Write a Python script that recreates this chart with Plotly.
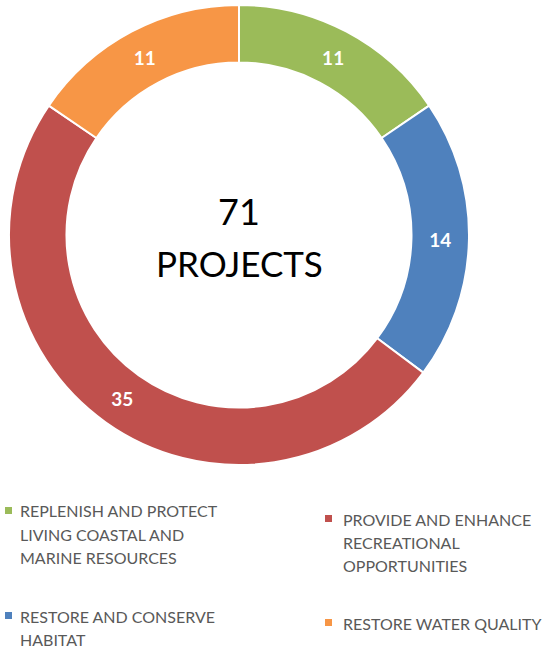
import plotly.graph_objects as go

W, H = 544, 648

categories = [
    "REPLENISH AND PROTECT LIVING COASTAL AND MARINE RESOURCES",
    "RESTORE AND CONSERVE HABITAT",
    "PROVIDE AND ENHANCE RECREATIONAL OPPORTUNITIES",
    "RESTORE WATER QUALITY",
]
values = [11, 14, 35, 11]
colors = ["#9BBB59", "#4F81BD", "#C0504D", "#F79646"]
legend_lines = [
    ["REPLENISH AND PROTECT", "LIVING COASTAL AND", "MARINE RESOURCES"],
    ["RESTORE AND CONSERVE", "HABITAT"],
    ["PROVIDE AND ENHANCE", "RECREATIONAL", "OPPORTUNITIES"],
    ["RESTORE WATER QUALITY"],
]
center_text = ["71", "PROJECTS"]


def px_x(x):
    return x / W


def px_y(y):
    return 1 - y / H


cx, cy, r = 239, 235, 230

fig = go.Figure(
    go.Pie(
        labels=categories,
        values=values,
        hole=0.75,
        sort=False,
        direction="clockwise",
        rotation=0,
        marker=dict(colors=colors, line=dict(color="white", width=2)),
        textinfo="value",
        textposition="inside",
        insidetextorientation="horizontal",
        textfont=dict(family="Lato", size=19, color="white", weight="bold"),
        domain=dict(x=[px_x(cx - r), px_x(cx + r)], y=[px_y(cy + r), px_y(cy - r)]),
        showlegend=False,
        hoverinfo="label+value",
    )
)

annotations = []
annotations.append(dict(x=px_x(cx), y=px_y(211), text=center_text[0], showarrow=False,
                        font=dict(family="Lato", size=36, color="#000000"),
                        xref="paper", yref="paper", xanchor="center", yanchor="middle"))
annotations.append(dict(x=px_x(cx), y=px_y(263), text=center_text[1], showarrow=False,
                        font=dict(family="Lato", size=35, color="#000000"),
                        xref="paper", yref="paper", xanchor="center", yanchor="middle"))

legend_pos = [(8, 18, 511), (8, 18, 616), (328, 341, 519), (328, 341, 623)]
line_h = 23
shapes = []
for lines, col, (mx, tx, y0) in zip(legend_lines, colors, legend_pos):
    shapes.append(dict(type="rect", xref="paper", yref="paper",
                       x0=px_x(mx - 3), x1=px_x(mx + 4), y0=px_y(y0 + 3), y1=px_y(y0 - 4),
                       fillcolor=col, line=dict(width=0)))
    for i, ln in enumerate(lines):
        annotations.append(dict(x=px_x(tx), y=px_y(y0 + i * line_h), text=ln, showarrow=False,
                                font=dict(family="Lato", size=16, color="#595959"),
                                xref="paper", yref="paper", xanchor="left", yanchor="middle"))

fig.update_layout(
    width=W, height=H,
    margin=dict(l=0, r=0, t=0, b=0),
    paper_bgcolor="white",
    plot_bgcolor="white",
    annotations=annotations,
    shapes=shapes,
)

fig.write_html("out.html", config={"displayModeBar": False},
               post_script="document.body.style.margin='0';document.body.style.overflow='hidden';")
